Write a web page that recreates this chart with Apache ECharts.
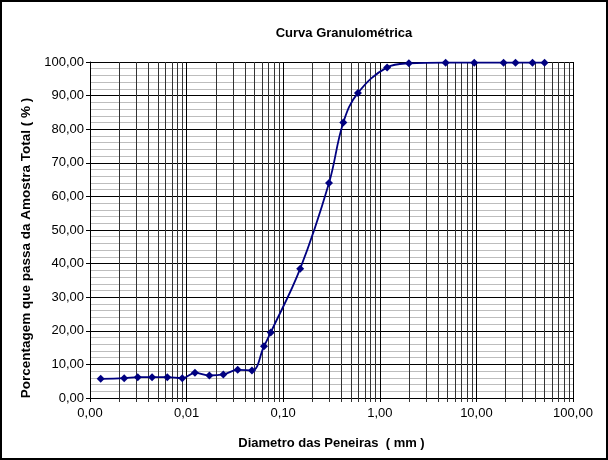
<!DOCTYPE html>
<html>
<head>
<meta charset="utf-8">
<script src="https://cdn.jsdelivr.net/npm/echarts@6/dist/echarts.min.js"></script>
<style>html,body{margin:0;padding:0;background:#fff}#c{width:608px;height:460px}</style>
</head>
<body>
<div id="c"></div>
<script>
// Sieve diameters (mm) and percent passing
var diameters = [0.00129, 0.00226, 0.00312, 0.00439, 0.00631, 0.00902, 0.0122, 0.0172, 0.0240, 0.0338, 0.0475, 0.0633, 0.0743, 0.150, 0.298, 0.419, 0.594, 1.19, 2.0, 4.8, 9.5, 19.1, 25.4, 38.1, 50.8];
var passing   = [5.7, 5.9, 6.2, 6.2, 6.2, 5.9, 7.5, 6.7, 7.0, 8.4, 8.2, 15.4, 19.5, 38.5, 64.0, 82.0, 90.8, 98.4, 99.6, 99.8, 99.8, 99.8, 99.8, 99.8, 99.8];
var xDecades = [0.001, 0.01, 0.1, 1, 10];
var xMinorMultipliers = [2, 3, 4, 5, 6, 7, 8, 9];
var yMin = 0, yMax = 100, yInterval = 10;

var minorX = [];
xDecades.forEach(function (d) { xMinorMultipliers.forEach(function (m) { minorX.push([d * m, 0]); }); });

function fmt(v) { return Number(v).toFixed(2).replace('.', ','); }

var chart = echarts.init(document.getElementById('c'), null, {renderer: 'canvas'});
chart.setOption({
  backgroundColor: '#fff',
  animation: false,
  textStyle: {fontFamily: 'Liberation Sans, Arial, sans-serif'},
  title: {
    text: 'Curva Granulométrica', left: 339, top: 22, textAlign: 'center',
    textStyle: {fontSize: 13, fontWeight: 'bold', color: '#000', fontFamily: 'Liberation Sans, Arial, sans-serif'}
  },
  graphic: [{type: 'rect', shape: {x: 1, y: 1, width: 606, height: 458}, style: {fill: 'none', stroke: '#000', lineWidth: 2}, silent: true}],
  grid: {left: 90, right: 35, top: 62, bottom: 62},
  xAxis: {
    type: 'log', logBase: 10, min: 0.001, max: 100,
    name: 'Diametro das Peneiras  ( mm )', nameLocation: 'middle', nameGap: 39,
    nameTextStyle: {fontSize: 13, fontWeight: 'bold', color: '#000'},
    axisLine: {lineStyle: {color: '#000', width: 1}},
    axisTick: {show: true, length: 4, lineStyle: {color: '#000'}},
    axisLabel: {formatter: fmt, fontSize: 13, color: '#000', margin: 9},
    splitLine: {show: true, lineStyle: {color: '#000', width: 1}},
    minorTick: {show: false}, minorSplitLine: {show: false}
  },
  yAxis: {
    type: 'value', min: yMin, max: yMax, interval: yInterval,
    name: 'Porcentagem que passa da Amostra Total ( % )', nameLocation: 'middle', nameGap: 56,
    nameTextStyle: {fontSize: 13.5, fontWeight: 'bold', color: '#000', padding: [0, 36, 0, 0]},
    axisLine: {show: true, lineStyle: {color: '#000', width: 1}},
    axisTick: {show: true, length: 4, lineStyle: {color: '#000'}},
    axisLabel: {formatter: fmt, fontSize: 13, color: '#000', margin: 6},
    splitLine: {show: true, lineStyle: {color: '#000', width: 1}},
    minorTick: {show: false, splitNumber: 5},
    minorSplitLine: {show: true, lineStyle: {color: '#bdbdbd', width: 1}}
  },
  series: [
    {
      type: 'custom', silent: true, z: 1, clip: false,
      data: minorX,
      renderItem: function (params, api) {
        var x = api.value(0);
        var p0 = api.coord([x, yMin]);
        var p1 = api.coord([x, yMax]);
        var px = Math.round(p0[0]) + 0.5;
        return {type: 'line', shape: {x1: px, y1: p0[1] + 4, x2: px, y2: p1[1]}, style: {stroke: '#333', lineWidth: 1}};
      }
    },
    {
      type: 'line', z: 5,
      data: diameters.map(function (d, i) { return [d, passing[i]]; }),
      smooth: 0.4,
      symbol: 'diamond', symbolSize: 8,
      lineStyle: {color: '#000080', width: 1.8},
      itemStyle: {color: '#000080'}
    }
  ]
});
</script>
</body>
</html>
